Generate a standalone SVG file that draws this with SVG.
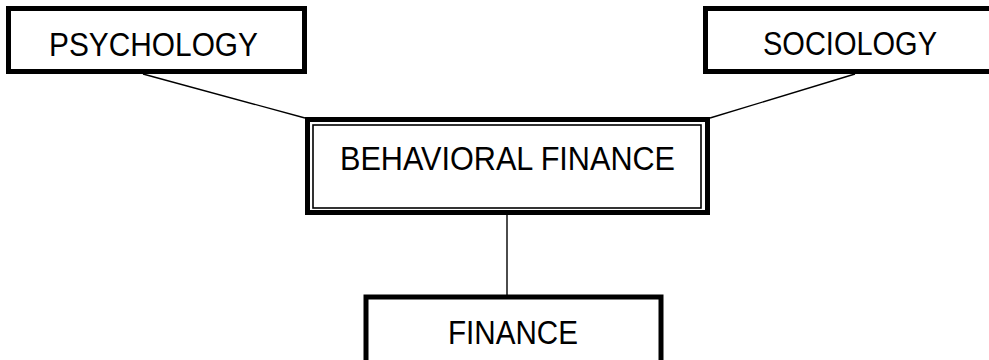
<svg xmlns="http://www.w3.org/2000/svg" width="989" height="360" viewBox="0 0 989 360">
<style>
.box{fill:#fff;stroke:#000;stroke-width:5}
.inner{fill:none;stroke:#000;stroke-width:1.6}
.lbl{font-family:"Liberation Sans",Arial,sans-serif;font-size:33px;fill:#000}
.conn{stroke:#000;stroke-width:1.4;fill:none}
</style>
<rect width="989" height="360" fill="#fff"/>
<g id="connectors">
<line class="conn" x1="143" y1="74" x2="305" y2="118"/>
<line class="conn" x1="855" y1="74" x2="710" y2="118"/>
<line class="conn" x1="507" y1="215" x2="507" y2="295"/>
</g>
<g id="psychology">
<rect class="box" x="8.5" y="8.5" width="296" height="63"/>
<text class="lbl" x="49" y="56" textLength="209" lengthAdjust="spacingAndGlyphs">PSYCHOLOGY</text>
</g>
<g id="sociology">
<rect class="box" x="705.5" y="8.5" width="300" height="63"/>
<text class="lbl" x="763" y="55" textLength="174" lengthAdjust="spacingAndGlyphs">SOCIOLOGY</text>
</g>
<g id="behavioral-finance">
<rect class="box" x="307.5" y="119.5" width="400" height="93"/>
<rect class="inner" x="313" y="125" width="388" height="83"/>
<text class="lbl" x="340" y="170" textLength="335" lengthAdjust="spacingAndGlyphs">BEHAVIORAL FINANCE</text>
</g>
<g id="finance">
<rect class="box" x="366" y="297" width="295" height="100"/>
<text class="lbl" x="448" y="344" textLength="130" lengthAdjust="spacingAndGlyphs">FINANCE</text>
</g>
</svg>
